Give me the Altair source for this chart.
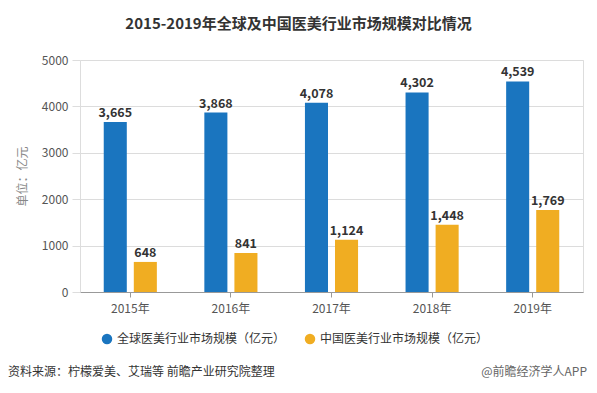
import altair as alt
import pandas as pd

years = ["2015年", "2016年", "2017年", "2018年", "2019年"]
global_vals = [3665, 3868, 4078, 4302, 4539]
china_vals = [648, 841, 1124, 1448, 1769]
series_names = ["全球医美行业市场规模（亿元）", "中国医美行业市场规模（亿元）"]
colors = ["#1a75bf", "#f0ad22"]
title_text = "2015-2019年全球及中国医美行业市场规模对比情况"
source_text = "资料来源：柠檬爱美、艾瑞等 前瞻产业研究院整理"
mark_text = "@前瞻经济学人APP"

rows = []
for i, y in enumerate(years):
    rows.append({"year": y, "series": series_names[0], "value": global_vals[i]})
    rows.append({"year": y, "series": series_names[1], "value": china_vals[i]})
df = pd.DataFrame(rows)

FONT = "Noto Sans CJK SC"
W, H = 503, 232

x = alt.X("year:N", sort=years, title=None,
          scale=alt.Scale(paddingInner=0, paddingOuter=0),
          axis=alt.Axis(labelAngle=0, labelColor="#555", labelFontSize=12, labelFont=FONT,
                        domainColor="#999", tickColor="#999", tickSize=5, labelPadding=6,
                        grid=False, tickBand="center"))
xo = alt.XOffset("series:N", sort=series_names,
                 scale=alt.Scale(paddingInner=0.233, paddingOuter=0.79))
y = alt.Y("value:Q", title="单位：亿元",
          scale=alt.Scale(domain=[0, 5000], nice=False),
          axis=alt.Axis(values=[0, 1000, 2000, 3000, 4000, 5000], format="d",
                        labelColor="#555", labelFontSize=12, labelFont=FONT,
                        domain=False, ticks=True, tickSize=8, tickColor="#ddd",
                        gridColor="#dcdcdc", labelPadding=4,
                        titleColor="#888", titleFontSize=12, titleFont=FONT,
                        titleFontWeight="normal", titleX=-58, titleY=H / 2,
                        titleAlign="center", titleBaseline="middle"))
color = alt.Color("series:N", sort=series_names,
                  scale=alt.Scale(domain=series_names, range=colors),
                  legend=alt.Legend(title=None, orient="none", direction="horizontal",
                                    legendX=21, legendY=H + 41,
                                    symbolType="circle", symbolSize=110,
                                    labelFontSize=12, labelFont=FONT, labelColor="#333",
                                    columnPadding=18, labelLimit=300, symbolStrokeWidth=0))

base = alt.Chart(df)
bars = base.mark_bar().encode(x=x, xOffset=xo, y=y, color=color)
labels = base.mark_text(dy=-9, fontSize=12.5, fontWeight="bold", color="#333", font=FONT).encode(
    x=x, xOffset=xo, y=y, text=alt.Text("value:Q", format=",")
)

src_df = pd.DataFrame({"t": [source_text]})
src = alt.Chart(src_df).mark_text(align="left", baseline="middle", fontSize=12, color="#333", font=FONT).encode(
    x=alt.value(-72), y=alt.value(H + 80), text="t:N")
wm_df = pd.DataFrame({"t": [mark_text]})
wm = alt.Chart(wm_df).mark_text(align="right", baseline="middle", fontSize=12, color="#666", font=FONT).encode(
    x=alt.value(W + 4), y=alt.value(H + 80), text="t:N")

chart = alt.layer(bars, labels, src, wm).properties(
    width=W, height=H,
    title=alt.TitleParams(title_text, fontSize=15, font=FONT, fontWeight="bold",
                          color="#333", anchor="middle", dx=-33, offset=22),
    autosize=alt.AutoSizeParams(type="none"),
    padding={"left": 72, "top": 52, "right": 6, "bottom": 93},
).configure_view(stroke=None).configure(background="white")

chart.save("out.html", embed_options={"renderer": "svg", "actions": False})
